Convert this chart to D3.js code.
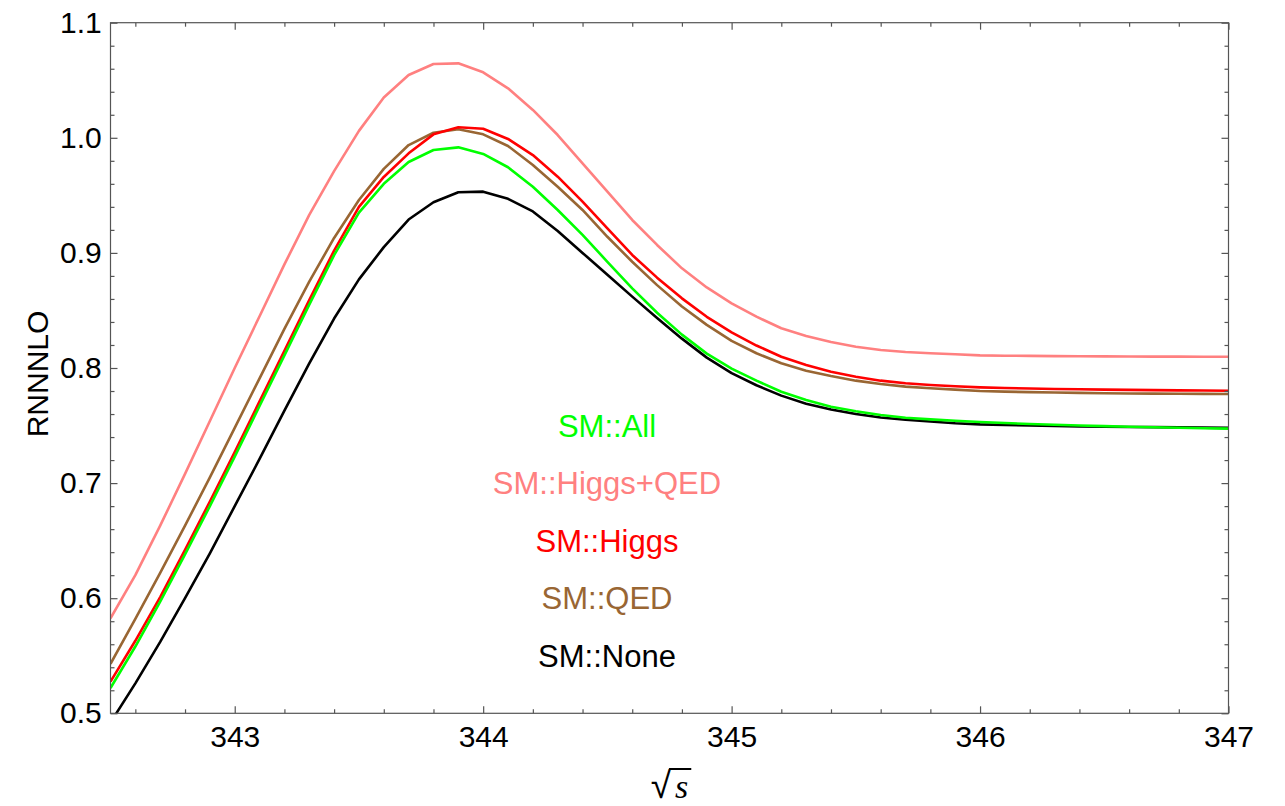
<!DOCTYPE html>
<html>
<head>
<meta charset="utf-8">
<script src="https://cdn.jsdelivr.net/npm/d3@7"></script>
<style>
  body { margin: 0; background: #fff; }
  text { font-family: "Liberation Sans", Arial, sans-serif; }
</style>
</head>
<body>
<div id="chart"></div>
<script>
// sqrt(s) sample points (GeV)
const sqrtS = [342.5, 342.6, 342.7, 342.8, 342.9, 343.0, 343.1, 343.2, 343.3, 343.4, 343.5, 343.6,
    343.7, 343.8, 343.9, 344.0, 344.1, 344.2, 344.3, 344.4, 344.5, 344.6, 344.7, 344.8,
    344.9, 345.0, 345.1, 345.2, 345.3, 345.4, 345.5, 345.6, 345.7, 345.8, 345.9, 346.0,
    346.1, 346.2, 346.3, 346.4, 346.5, 346.6, 346.7, 346.8, 346.9, 347.0];

// RNNNLO for each scheme
const smNone = [0.492, 0.526, 0.562, 0.600, 0.639, 0.680, 0.721, 0.763, 0.804, 0.843, 0.877, 0.905,
    0.929, 0.944, 0.9527, 0.9532, 0.947, 0.936, 0.919, 0.900, 0.881, 0.862, 0.8435, 0.8255,
    0.809, 0.7955, 0.785, 0.776, 0.769, 0.764, 0.760, 0.757, 0.755, 0.7535, 0.752, 0.751,
    0.7505, 0.750, 0.7496, 0.7493, 0.749, 0.7488, 0.7486, 0.7484, 0.7482, 0.748];

const smQED = [0.543, 0.582, 0.622, 0.663, 0.705, 0.748, 0.791, 0.834, 0.875, 0.913, 0.946, 0.973,
    0.9937, 1.0044, 1.0074, 1.003, 0.9929, 0.9764, 0.9575, 0.9373, 0.914, 0.8923, 0.872, 0.8535,
    0.8375, 0.8235, 0.8128, 0.8041, 0.7977, 0.7931, 0.789, 0.7861, 0.7838, 0.7824, 0.7812, 0.780,
    0.7795, 0.779, 0.7787, 0.7784, 0.7781, 0.7779, 0.7777, 0.7776, 0.7775, 0.7774];

const smHiggs = [0.5275, 0.563, 0.601, 0.642, 0.684, 0.727, 0.771, 0.815, 0.859, 0.902, 0.940, 0.966,
    0.9865, 1.003, 1.0091, 1.0079, 0.999, 0.985, 0.9662, 0.9445, 0.9214, 0.8982, 0.8785, 0.8605,
    0.8445, 0.831, 0.8195, 0.8098, 0.8026, 0.7968, 0.7924, 0.789, 0.7867, 0.7852, 0.7841, 0.7832,
    0.7826, 0.7822, 0.7818, 0.7815, 0.7812, 0.781, 0.7808, 0.7806, 0.7804, 0.7802];

const smHiggsQED = [0.5825, 0.620, 0.663, 0.708, 0.754, 0.800, 0.845, 0.890, 0.933, 0.971, 1.006, 1.035,
    1.0546, 1.0641, 1.0647, 1.0569, 1.043, 1.0242, 1.0024, 0.9778, 0.9532, 0.9286, 0.9069, 0.8866,
    0.870, 0.8562, 0.8446, 0.8345, 0.8278, 0.8226, 0.8185, 0.8156, 0.8139, 0.8128, 0.8119, 0.811,
    0.8107, 0.8105, 0.8103, 0.8102, 0.8101, 0.810, 0.8099, 0.8099, 0.8098, 0.8098];

const smAll = [0.522, 0.558, 0.597, 0.638, 0.680, 0.723, 0.767, 0.811, 0.855, 0.898, 0.935, 0.960,
    0.979, 0.9894, 0.9917, 0.986, 0.9744, 0.9575, 0.9373, 0.9156, 0.8923, 0.8692, 0.848, 0.829,
    0.8125, 0.7995, 0.789, 0.7794, 0.7722, 0.7664, 0.7624, 0.7592, 0.7568, 0.7554, 0.7542, 0.7531,
    0.7522, 0.7514, 0.7507, 0.750, 0.7495, 0.749, 0.7485, 0.7481, 0.7477, 0.7473];

// legend labels, top to bottom
const legendLabels = ['SM::All', 'SM::Higgs+QED', 'SM::Higgs', 'SM::QED', 'SM::None'];

// tick labels
const xTickValues = [343, 344, 345, 346, 347];
const yTickValues = [0.5, 0.6, 0.7, 0.8, 0.9, 1.0, 1.1];

const width = 1285;
const height = 806;
const margin = { top: 22.7, right: 56.5, bottom: 92.7, left: 110.5 };
const innerW = width - margin.left - margin.right;
const innerH = height - margin.top - margin.bottom;

const colors = {
    'SM::All': '#00ff00',
    'SM::Higgs+QED': '#ff8080',
    'SM::Higgs': '#ff0000',
    'SM::QED': '#996633',
    'SM::None': '#000000'
};

// draw order: later ones sit on top
const series = [
    { name: 'SM::None', values: smNone },
    { name: 'SM::QED', values: smQED },
    { name: 'SM::Higgs', values: smHiggs },
    { name: 'SM::Higgs+QED', values: smHiggsQED },
    { name: 'SM::All', values: smAll }
];

const svg = d3.select('#chart').append('svg')
    .attr('width', width)
    .attr('height', height);

const g = svg.append('g')
    .attr('transform', `translate(${margin.left},${margin.top})`);

const x = d3.scaleLinear().domain([342.5, 347]).range([0, innerW]);
const y = d3.scaleLinear().domain([0.5, 1.1]).range([innerH, 0]);

svg.append('defs').append('clipPath')
    .attr('id', 'plot-clip')
    .append('rect')
    .attr('width', innerW)
    .attr('height', innerH);

// curves
const line = d3.line()
    .x((d, i) => x(sqrtS[i]))
    .y(d => y(d));

g.append('g')
    .attr('clip-path', 'url(#plot-clip)')
    .selectAll('path')
    .data(series)
    .enter()
    .append('path')
    .attr('d', d => line(d.values))
    .attr('fill', 'none')
    .attr('stroke', d => colors[d.name])
    .attr('stroke-width', 2.6)
    .attr('stroke-linejoin', 'round');

// frame axes, ticks pointing inwards on all four sides
const frameColor = '#555';
const tickFont = 30;

function styleAxis(sel) {
    sel.select('.domain').remove();
    sel.selectAll('.tick line').attr('stroke', frameColor).attr('stroke-width', 1.2);
    sel.selectAll('.tick text')
        .attr('fill', '#000')
        .style('font-size', tickFont + 'px')
        .style('font-family', '"Liberation Sans", Arial, sans-serif');
}

const xMinor = x.ticks(25).filter(v => !xTickValues.some(t => Math.abs(t - v) < 1e-6));
const yMinor = y.ticks(30).filter(v => !yTickValues.some(t => Math.abs(t - v) < 1e-6));

// bottom
g.append('g')
    .attr('transform', `translate(0,${innerH})`)
    .call(d3.axisBottom(x).tickValues(xTickValues).tickSize(-7).tickPadding(12.4).tickFormat(d3.format('d')))
    .call(styleAxis);
g.append('g')
    .attr('transform', `translate(0,${innerH})`)
    .call(d3.axisBottom(x).tickValues(xMinor).tickSize(-4).tickFormat(''))
    .call(styleAxis);

// top
g.append('g')
    .call(d3.axisTop(x).tickValues(xTickValues).tickSize(-7).tickFormat(''))
    .call(styleAxis);
g.append('g')
    .call(d3.axisTop(x).tickValues(xMinor).tickSize(-4).tickFormat(''))
    .call(styleAxis);

// left
g.append('g')
    .call(d3.axisLeft(y).tickValues(yTickValues).tickSize(-7).tickPadding(8.8).tickFormat(d3.format('.1f')))
    .call(styleAxis);
g.append('g')
    .call(d3.axisLeft(y).tickValues(yMinor).tickSize(-4).tickFormat(''))
    .call(styleAxis);

// right
g.append('g')
    .attr('transform', `translate(${innerW},0)`)
    .call(d3.axisRight(y).tickValues(yTickValues).tickSize(-7).tickFormat(''))
    .call(styleAxis);
g.append('g')
    .attr('transform', `translate(${innerW},0)`)
    .call(d3.axisRight(y).tickValues(yMinor).tickSize(-4).tickFormat(''))
    .call(styleAxis);

// frame
g.append('rect')
    .attr('width', innerW)
    .attr('height', innerH)
    .attr('fill', 'none')
    .attr('stroke', frameColor)
    .attr('stroke-width', 1.2);

// legend in the middle of the plot
const legendX = 607 - margin.left;
const legendY0 = 437 - margin.top;
const legendStep = 57.5;

g.append('g')
    .selectAll('text')
    .data(legendLabels)
    .enter()
    .append('text')
    .attr('x', legendX)
    .attr('y', (d, i) => legendY0 + i * legendStep)
    .attr('text-anchor', 'middle')
    .style('font-size', '31px')
    .attr('fill', d => colors[d])
    .text(d => d);

// y axis title
svg.append('text')
    .attr('transform', 'translate(48,374) rotate(-90)')
    .attr('text-anchor', 'middle')
    .style('font-size', '30px')
    .attr('fill', '#000')
    .text('RNNNLO');

// x axis title: sqrt(s) with a bar over the s
const xTitle = svg.append('text')
    .attr('x', margin.left + innerW / 2)
    .attr('y', 798)
    .attr('text-anchor', 'middle')
    .attr('fill', '#000');
xTitle.append('tspan')
    .style('font-size', '37px')
    .text('\u221A');
xTitle.append('tspan')
    .style('font-size', '34px')
    .style('font-style', 'italic')
    .style('font-family', '"Liberation Serif", "Times New Roman", serif')
    .attr('dx', 4)
    .text('s');

const rootBox = xTitle.node().getExtentOfChar(0);
const sBox = xTitle.node().getExtentOfChar(1);
svg.append('line')
    .attr('x1', rootBox.x + rootBox.width - 2)
    .attr('x2', sBox.x + sBox.width + 3)
    .attr('y1', rootBox.y + 4)
    .attr('y2', rootBox.y + 4)
    .attr('stroke', '#000')
    .attr('stroke-width', 2);
</script>
</body>
</html>
